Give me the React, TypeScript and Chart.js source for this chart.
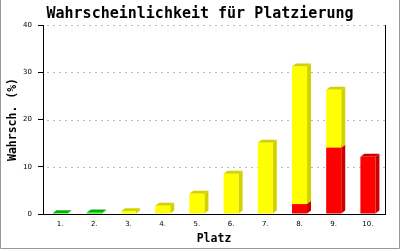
import React, { useEffect, useRef } from 'react';
import { Chart, registerables } from 'chart.js';

Chart.register(...registerables);

const categories = ['1.', '2.', '3.', '4.', '5.', '6.', '7.', '8.', '9.', '10.'];
const greenValues = [0.15, 0.3, 0, 0, 0, 0, 0, 0, 0, 0];
const redValues = [0, 0, 0, 0, 0, 0, 0, 2.1, 14.0, 12.1];
const yellowValues = [0, 0, 0.6, 1.75, 4.3, 8.5, 15.1, 29.1, 12.3, 0];
const yTickValues = [0, 10, 20, 30, 40];

const titleText = 'Wahrscheinlichkeit für Platzierung';
const xTitle = 'Platz';
const yTitle = 'Wahrsch. (%)';

const frontColors = ['#00DD00', '#FF0000', '#FFFF00'];
const shadeColors = ['#00B400', '#CC0000', '#D2D200'];
const DX = 4;
const DY = 3;

const gridPlugin = {
  id: 'dashedGrid',
  beforeDatasetsDraw(chart: any) {
    const { ctx, chartArea } = chart;
    const yScale = chart.scales.y;
    ctx.save();
    ctx.strokeStyle = '#BBBBBB';
    ctx.lineWidth = 1;
    ctx.setLineDash([2, 4]);
    yTickValues.forEach((v) => {
      if (v === 0) return;
      const py = Math.round(yScale.getPixelForValue(v)) + 0.5;
      ctx.beginPath();
      ctx.moveTo(chartArea.left + 4, py);
      ctx.lineTo(chartArea.right, py);
      ctx.stroke();
    });
    ctx.restore();
  },
};

const bar3dPlugin = {
  id: 'bar3d',
  beforeDatasetsDraw(chart: any) {
    const ctx = chart.ctx;
    ctx.save();
    for (let i = 0; i < categories.length; i++) {
      chart.data.datasets.forEach((ds: any, d: number) => {
        const v = ds.data[i];
        if (!v) return;
        const el = chart.getDatasetMeta(d).data[i];
        if (!el) return;
        const { x, y, base, width } = el.getProps(['x', 'y', 'base', 'width'], true);
        const l = x - width / 2;
        const r = x + width / 2;
        const top = Math.min(y, base);
        const bot = Math.max(y, base);
        ctx.fillStyle = shadeColors[d];
        ctx.beginPath();
        ctx.moveTo(r, bot);
        ctx.lineTo(r + DX, bot - DY);
        ctx.lineTo(r + DX, top - DY);
        ctx.lineTo(r, top);
        ctx.closePath();
        ctx.fill();
        ctx.beginPath();
        ctx.moveTo(l, top);
        ctx.lineTo(l + DX, top - DY);
        ctx.lineTo(r + DX, top - DY);
        ctx.lineTo(r, top);
        ctx.closePath();
        ctx.fill();
      });
    }
    ctx.restore();
  },
};

const framePlugin = {
  id: 'frame',
  afterDraw(chart: any) {
    const { ctx, chartArea, width, height } = chart;
    ctx.save();
    ctx.strokeStyle = '#000';
    ctx.lineWidth = 1;
    const rx = Math.round(chartArea.right) + 0.5;
    ctx.beginPath();
    ctx.moveTo(rx, chartArea.top);
    ctx.lineTo(rx, Math.round(chartArea.bottom) + 1);
    ctx.stroke();
    ctx.strokeStyle = '#999999';
    ctx.beginPath();
    ctx.moveTo(0.5, 0);
    ctx.lineTo(0.5, height - 1.5);
    ctx.lineTo(width - 0.5, height - 1.5);
    ctx.lineTo(width - 0.5, 0);
    ctx.stroke();
    ctx.fillStyle = '#000';
    ctx.font = 'bold 15px "DejaVu Sans Mono"';
    ctx.textAlign = 'center';
    ctx.textBaseline = 'alphabetic';
    ctx.fillText(titleText, width / 2, 18);
    ctx.restore();
  },
};

export default function App() {
  const canvasRef = useRef<HTMLCanvasElement | null>(null);

  useEffect(() => {
    if (!canvasRef.current) return;
    const tickFont = { family: 'DejaVu Sans', size: 7 };
    const titleFont = { family: 'DejaVu Sans Mono', size: 11.5, weight: 'bold' as const };
    const chart = new Chart(canvasRef.current, {
      type: 'bar',
      data: {
        labels: categories,
        datasets: [
          { label: 'green', data: greenValues, backgroundColor: frontColors[0] },
          { label: 'red', data: redValues, backgroundColor: frontColors[1] },
          { label: 'yellow', data: yellowValues, backgroundColor: frontColors[2] },
        ],
      },
      options: {
        animation: false,
        responsive: false,
        events: [],
        layout: { padding: { top: 25, right: 15, left: 0, bottom: 0 } },
        datasets: { bar: { barPercentage: 0.44, categoryPercentage: 1 } },
        plugins: { legend: { display: false }, title: { display: false }, tooltip: { enabled: false } },
        scales: {
          x: {
            stacked: true,
            grid: { display: false, drawTicks: false },
            border: { display: true, color: '#000', width: 1 },
            ticks: { font: tickFont, color: '#000', padding: 6, maxRotation: 0 },
            title: { display: true, text: xTitle, font: titleFont, color: '#000', padding: { top: 0, bottom: 4 } },
            afterFit: (s: any) => { s.height = 36; },
          },
          y: {
            stacked: true,
            min: 0,
            max: 40,
            ticks: { stepSize: 10, font: tickFont, color: '#000', padding: 6 },
            grid: { drawOnChartArea: false, drawTicks: true, tickLength: 5, tickColor: '#000' },
            border: { display: true, color: '#000', width: 1 },
            title: { display: true, text: yTitle, font: titleFont, color: '#000', padding: { top: 6, bottom: 0 } },
            afterFit: (s: any) => { s.width = 43; },
          },
        },
      },
      plugins: [gridPlugin, bar3dPlugin, framePlugin],
    });
    return () => chart.destroy();
  }, []);

  return (
    <div style={{ position: 'absolute', left: 0, top: 0, width: 400, height: 250 }}>
      <canvas ref={canvasRef} width={400} height={250} style={{ display: 'block' }} />
    </div>
  );
}
